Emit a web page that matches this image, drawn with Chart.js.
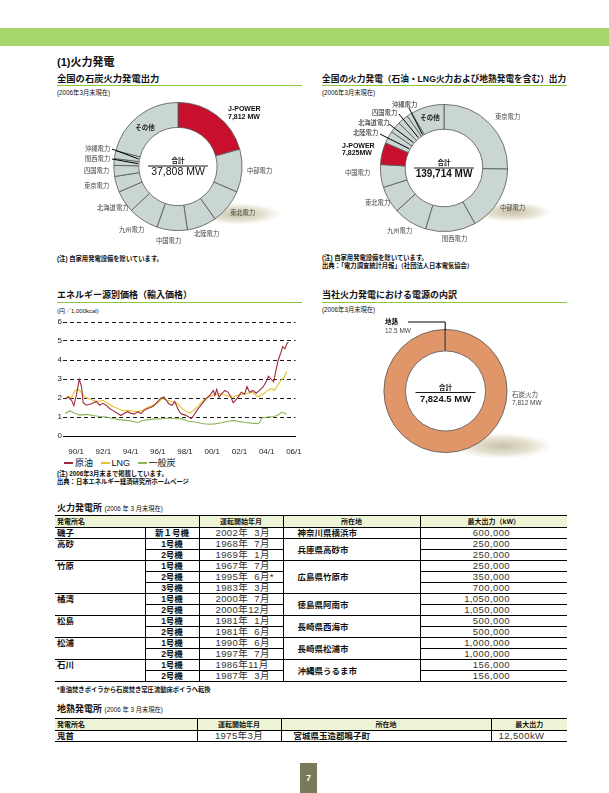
<!DOCTYPE html>
<html lang="ja">
<head>
<meta charset="utf-8">
<script src="https://cdn.jsdelivr.net/npm/chart.js@4.4.1/dist/chart.umd.min.js"></script>
<style>
  html, body { margin: 0; padding: 0; background: #fff; }
  body { width: 609px; height: 793px; position: relative; overflow: hidden;
         font-family: "Liberation Sans", "Noto Sans CJK JP", sans-serif; color: #111; }
  .t { position: absolute; white-space: nowrap; line-height: 1; }
  .b { font-weight: bold; }
  .rule { position: absolute; height: 1.3px; background: #8cc63f; }
  canvas { position: absolute; }
  table { position: absolute; border-collapse: collapse; table-layout: fixed; }
  td, th { padding: 0; overflow: hidden; white-space: pre; }
  th { font-size: 7px; font-weight: bold; height: 11px; line-height: 11px; background: #eef5d6;
       border-top: 1.5px solid #000; border-bottom: 1px solid #000; }
  td { height: 10px; line-height: 10px; border-bottom: 1px solid #000; }
  .vl { border-left: 1px solid #000; }
  .nm { font-size: 8.5px; font-weight: bold; vertical-align: top; padding-left: 2px; }
  .un { font-size: 8.5px; font-weight: bold; text-align: center; }
  .dt { font-size: 9.5px; color: #333; padding-left: 16px; letter-spacing: 0.4px; }
  .pl { font-size: 8.5px; font-weight: bold; padding-left: 14px; vertical-align: middle; }
  .op { font-size: 9.5px; color: #333; text-align: right; padding-right: 57px; letter-spacing: 0.4px; }
  .leg { display: inline-block; width: 9px; height: 1.4px; vertical-align: middle; margin-right: 2px; }
</style>
</head>
<body>

<div style="position:absolute;left:0;top:28px;width:609px;height:18px;background:#a6d66c"></div>
<div class="t b" style="left:57px;top:56.5px;font-size:11px">(1)火力発電</div>

<div class="t b" style="left:57px;top:74.5px;font-size:9.3px">全国の石炭火力発電出力</div>
<div class="rule" style="left:57px;top:84.5px;width:245px"></div>
<div class="t" style="left:57px;top:90px;font-size:6.3px">(2006年3月末現在)</div>

<div class="t b" style="left:322px;top:74.5px;font-size:8.7px">全国の火力発電（石油・LNG火力および地熱発電を含む）出力</div>
<div class="rule" style="left:322px;top:84.5px;width:245px"></div>
<div class="t" style="left:322px;top:90px;font-size:6.3px">(2006年3月末現在)</div>

<canvas id="coalShare" width="243" height="156" style="left:57px;top:96px"></canvas>
<canvas id="thermalShare" width="250" height="156" style="left:322px;top:96px"></canvas>

<div class="t b" style="left:57px;top:256px;font-size:6.3px">(注) 自家用発電設備を除いています。</div>
<div class="t b" style="left:322px;top:255px;font-size:6.3px">(注) 自家用発電設備を除いています。</div>
<div class="t b" style="left:322px;top:263px;font-size:6.3px">出典：「電力調査統計月報」（社団法人日本電気協会）</div>

<div class="t b" style="left:57px;top:290.5px;font-size:9px">エネルギー源別価格（輸入価格）</div>
<div class="rule" style="left:57px;top:302px;width:245px"></div>
<div class="t" style="left:57px;top:308px;font-size:6px">(円／1,000kcal)</div>
<canvas id="prices" width="250" height="140" style="left:55px;top:315px"></canvas>
<div class="t" style="left:64px;top:458.5px;font-size:9px">
  <span class="leg" style="background:#9c2b3c"></span>原油&nbsp;&nbsp;
  <span class="leg" style="background:#e3c22c"></span>LNG&nbsp;&nbsp;
  <span class="leg" style="background:#8fb35a"></span>一般炭
</div>
<div class="t b" style="left:57px;top:471px;font-size:6.3px">(注) 2006年3月末まで掲載しています。</div>
<div class="t b" style="left:57px;top:479px;font-size:6.3px">出典：日本エネルギー経済研究所ホームページ</div>

<div class="t b" style="left:322px;top:290.5px;font-size:9px">当社火力発電における電源の内訳</div>
<div class="rule" style="left:322px;top:302px;width:245px"></div>
<div class="t" style="left:322px;top:307px;font-size:6.3px">(2006年3月末現在)</div>
<canvas id="ownShare" width="250" height="150" style="left:322px;top:312px"></canvas>

<div class="t" style="left:57px;top:503.5px;font-size:9px"><span class="b">火力発電所</span> <span style="font-size:6.3px">(2006 年 3 月末現在)</span></div>
<table id="thermalTable" style="left:55px;top:515px;width:512px">
  <colgroup><col style="width:90px"><col style="width:54px"><col style="width:84px"><col style="width:137px"><col style="width:147px"></colgroup>
  <thead><tr>
    <th colspan="2" style="text-align:left;padding-left:2px">発電所名</th>
    <th class="vl">運転開始年月</th>
    <th class="vl">所在地</th>
    <th class="vl">最大出力（kW）</th>
  </tr></thead>
  <tbody></tbody>
</table>
<div class="t b" style="left:57px;top:687px;font-size:6.3px">*重油焚きボイラから石炭焚き常圧流動床ボイラへ転換</div>

<div class="t" style="left:57px;top:704.5px;font-size:9px"><span class="b">地熱発電所</span> <span style="font-size:6.3px">(2006 年 3 月末現在)</span></div>
<table id="geoTable" style="left:55px;top:718px;width:512px">
  <colgroup><col style="width:142px"><col style="width:84px"><col style="width:210px"><col style="width:76px"></colgroup>
  <thead><tr>
    <th style="text-align:left;padding-left:2px">発電所名</th>
    <th class="vl">運転開始年月</th>
    <th class="vl">所在地</th>
    <th class="vl">最大出力</th>
  </tr></thead>
  <tbody></tbody>
</table>

<div style="position:absolute;left:300px;top:763px;width:17px;height:30px;background:#7a7a5b;color:#fff;font-weight:bold;font-size:9px;line-height:30px;text-align:center">7</div>

<script>
const FONT = '"Liberation Sans", "Noto Sans CJK JP", sans-serif';

// --- 全国の石炭火力発電出力 (MW) ---
const coalCompanies = ['J-POWER', '中部電力', '東北電力', '北陸電力', '中国電力', '九州電力',
                       '北海道電力', '東京電力', '四国電力', '関西電力', '沖縄電力', 'その他'];
const coalOutput = [7812, 4100, 3300, 2800, 2900, 2900, 2100, 1500, 1050, 650, 750, 7946];
const coalTotal = '37,808 MW';

// --- 全国の火力発電出力 (MW) ---
const thermalCompanies = ['東京電力', '中部電力', '関西電力', '九州電力', '東北電力', '中国電力',
                          'J-POWER', '北陸電力', '北海道電力', '四国電力', '沖縄電力', 'その他'];
const thermalOutput = [35300, 23300, 17800, 12000, 9500, 8100, 7825, 4400, 4000, 3800, 1900, 11789];
const thermalTotal = '139,714 MW';

// --- 当社火力発電における電源の内訳 (MW) ---
const ownSources = ['石炭火力', '地熱'];
const ownOutput = [7812, 12.5];
const ownTotal = '7,824.5 MW';

// --- エネルギー源別価格 (円/1,000kcal) ---
const crudeYears = [1989.76, 1990.00, 1990.24, 1990.41, 1990.61, 1990.80, 1990.97, 1991.09, 1991.33, 1991.69,
  1992.06, 1992.30, 1992.54, 1992.78, 1993.03, 1993.27, 1993.63, 1993.87, 1994.12, 1994.36,
  1994.60, 1994.84, 1995.08, 1995.33, 1995.57, 1995.81, 1996.05, 1996.30, 1996.54, 1996.78,
  1997.02, 1997.19, 1997.38, 1997.63, 1997.82, 1997.99, 1998.18, 1998.35, 1998.60, 1998.84,
  1999.03, 1999.20, 1999.44, 1999.69, 1999.93, 2000.17, 2000.41, 2000.65, 2000.77, 2000.90,
  2001.07, 2001.26, 2001.50, 2001.74, 2001.94, 2002.11, 2002.28, 2002.47, 2002.71, 2002.95,
  2003.12, 2003.32, 2003.56, 2003.80, 2004.04, 2004.29, 2004.53, 2004.70, 2004.89, 2005.08,
  2005.25, 2005.42, 2005.62, 2005.74, 2005.91, 2006.05, 2006.15];
const crudePrice = [1.95, 2.05, 1.88, 1.6, 2.2, 2.98, 2.6, 1.75, 1.62, 1.7,
  1.82, 1.62, 1.72, 1.62, 1.45, 1.35, 1.18, 1.08, 1.2, 1.28,
  1.2, 1.15, 1.27, 1.18, 1.35, 1.45, 1.5, 1.6, 1.8, 1.97,
  2.05, 1.88, 1.7, 1.62, 1.82, 1.52, 1.25, 1.15, 1.1, 1.0,
  0.92, 1.08, 1.35, 1.57, 1.8, 2.0, 2.15, 2.4, 2.15, 2.45,
  2.05, 2.22, 2.4, 2.3, 2.05, 1.75, 1.88, 2.05, 2.3, 2.2,
  2.6, 2.3, 2.4, 2.25, 2.4, 2.57, 2.85, 3.15, 3.0, 2.85,
  3.45, 4.0, 4.4, 4.7, 4.6, 4.85, 4.95];

const lngYears = [1989.76, 1990.00, 1990.24, 1990.48, 1990.73, 1990.97, 1991.21, 1991.45, 1991.82, 1992.18,
  1992.54, 1992.91, 1993.27, 1993.63, 1994.00, 1994.36, 1994.72, 1995.08, 1995.45, 1995.81,
  1996.17, 1996.54, 1996.90, 1997.26, 1997.63, 1997.99, 1998.35, 1998.72, 1998.96, 1999.20,
  1999.56, 1999.93, 2000.29, 2000.65, 2001.02, 2001.38, 2001.74, 2002.11, 2002.47, 2002.83,
  2003.20, 2003.56, 2003.92, 2004.29, 2004.65, 2004.94, 2005.13, 2005.38, 2005.62, 2005.86, 2006.05];
const lngPrice = [1.98, 2.1, 2.0, 2.38, 2.45, 2.3, 2.05, 1.97, 1.88, 1.82,
  1.88, 1.72, 1.55, 1.45, 1.33, 1.35, 1.32, 1.27, 1.35, 1.5,
  1.6, 1.72, 1.97, 1.88, 1.8, 1.72, 1.45, 1.27, 1.22, 1.35,
  1.6, 1.88, 2.05, 2.15, 2.22, 2.2, 2.1, 2.05, 2.15, 2.2,
  2.25, 2.3, 2.05, 2.2, 2.4, 2.5, 2.4, 2.67, 2.93, 3.1, 3.4];

const coalYears = [1989.76, 1990.12, 1990.48, 1990.85, 1991.33, 1991.82, 1992.30, 1992.78, 1993.27, 1993.75,
  1994.24, 1994.72, 1995.08, 1995.45, 1995.93, 1996.42, 1996.90, 1997.38, 1997.87, 1998.35,
  1998.84, 1999.32, 1999.81, 2000.29, 2000.77, 2001.26, 2001.74, 2002.11, 2002.47, 2002.95,
  2003.44, 2003.92, 2004.04, 2004.21, 2004.65, 2005.13, 2005.50, 2005.62, 2005.91, 2006.05];
const coalPrice = [1.2, 1.32, 1.2, 1.1, 1.14, 1.08, 1.03, 1.0, 0.92, 0.86,
  0.82, 0.78, 0.7, 0.82, 0.86, 0.9, 0.91, 0.95, 0.91, 0.9,
  0.78, 0.74, 0.66, 0.62, 0.64, 0.7, 0.78, 0.82, 0.77, 0.72,
  0.68, 0.65, 0.7, 0.95, 1.0, 1.03, 1.14, 1.25, 1.2, 1.15];

const xTickYears = [1990, 1992, 1994, 1996, 1998, 2000, 2002, 2004, 2006];
const xTickLabels = ['90/1', '92/1', '94/1', '96/1', '98/1', '00/1', '02/1', '04/1', '06/1'];

// --- 火力発電所 ---
const plantNames = ['磯子', '高砂', '竹原', '橘湾', '松島', '松浦', '石川'];
const plantPlaces = ['神奈川県横浜市', '兵庫県高砂市', '広島県竹原市', '徳島県阿南市', '長崎県西海市', '長崎県松浦市', '沖縄県うるま市'];
const unitNames = [['新１号機'], ['1号機', '2号機'], ['1号機', '2号機', '3号機'], ['1号機', '2号機'],
                   ['1号機', '2号機'], ['1号機', '2号機'], ['1号機', '2号機']];
const unitStarts = [['2002年  3月'], ['1968年  7月', '1969年  1月'], ['1967年  7月', '1995年  6月*', '1983年  3月'],
                    ['2000年  7月', '2000年12月'], ['1981年  1月', '1981年  6月'], ['1990年  6月', '1997年  7月'],
                    ['1986年11月', '1987年  3月']];
const unitOutputs = [[600000], [250000, 250000], [250000, 350000, 700000], [1050000, 1050000],
                     [500000, 500000], [1000000, 1000000], [156000, 156000]];

// --- 地熱発電所 ---
const geoName = '鬼首';
const geoStart = '1975年3月';
const geoPlace = '宮城県玉造郡鳴子町';
const geoOutput = '12,500kW';

// draws shadow, labels, leader lines and the total in the hole
const decor = {
    id: 'decor',
    beforeDatasetsDraw(chart, args, o) {
        const ctx = chart.ctx;
        const s = o.shadow;
        ctx.save();
        ctx.translate(s.x, s.y);
        ctx.scale(1, s.ry / s.rx);
        const g = ctx.createRadialGradient(0, 0, 0, 0, 0, s.rx);
        g.addColorStop(0, 'rgba(150,140,90,0.55)');
        g.addColorStop(0.6, 'rgba(170,160,110,0.3)');
        g.addColorStop(1, 'rgba(190,180,130,0)');
        ctx.fillStyle = g;
        ctx.beginPath();
        ctx.arc(0, 0, s.rx, 0, Math.PI * 2);
        ctx.fill();
        ctx.restore();
    },
    afterDatasetsDraw(chart, args, o) {
        const ctx = chart.ctx;
        const arcs = chart.getDatasetMeta(0).data;
        const cx = arcs[0].x, cy = arcs[0].y;
        ctx.save();
        ctx.strokeStyle = '#000';
        ctx.lineWidth = 1;
        (o.leaders || []).forEach(l => {
            const a = arcs[l.index];
            const mid = (a.startAngle + a.endAngle) / 2;
            const r = l.outer ? a.outerRadius - 1 : a.innerRadius + 1;
            const tx = cx + Math.cos(mid) * r, ty = cy + Math.sin(mid) * r;
            ctx.beginPath();
            ctx.moveTo(l.x, l.y);
            if (l.elbow) ctx.lineTo(tx, l.y);
            ctx.lineTo(tx, ty);
            ctx.stroke();
        });
        ctx.textBaseline = 'middle';
        o.labels.forEach(lb => {
            ctx.font = (lb.bold ? 'bold ' : '') + (lb.size || 6.3) + 'px ' + FONT;
            ctx.fillStyle = lb.color || '#444';
            ctx.textAlign = lb.align || 'left';
            ctx.fillText(lb.text, lb.x, lb.y);
        });
        // 合計
        const d = o.centerOffsets;
        ctx.textAlign = 'center';
        ctx.fillStyle = '#111';
        ctx.font = 'bold 6.5px ' + FONT;
        ctx.fillText('合計', cx, cy + d[0]);
        ctx.beginPath();
        ctx.lineWidth = 0.9;
        ctx.moveTo(cx - 30, cy + d[1]);
        ctx.lineTo(cx + 30, cy + d[1]);
        ctx.stroke();
        ctx.font = (o.totalBold ? 'bold ' : '') + o.totalSize + 'px ' + FONT;
        ctx.fillText(o.total, cx, cy + d[2]);
        ctx.restore();
    }
};

function makeDonut(id, labels, values, colors, cutout, padding, decorOpts) {
    return new Chart(document.getElementById(id), {
        type: 'doughnut',
        data: {
            labels: labels,
            datasets: [{
                data: values,
                backgroundColor: colors,
                borderColor: '#555',
                borderWidth: 0.8
            }]
        },
        options: {
            responsive: false,
            animation: false,
            devicePixelRatio: 1,
            cutout: cutout,
            layout: { padding: padding },
            plugins: { legend: { display: false }, tooltip: { enabled: false }, decor: decorOpts }
        },
        plugins: [decor]
    });
}

const GRAY = '#c9d6d3';
const RED = '#c8102e';

makeDonut('coalShare', coalCompanies, coalOutput,
    coalCompanies.map(c => c === 'J-POWER' ? RED : GRAY), '61%',
    { left: 56.5, right: 57.5, top: 6, bottom: 21 },
    {
        shadow: { x: 181, y: 118, rx: 44, ry: 11 },
        total: coalTotal, totalBold: false, totalSize: 10.5, centerOffsets: [-5.5, -0.5, 5.5],
        leaders: [{ index: 10, x: 55, y: 53 }, { index: 9, x: 55, y: 63 }],
        labels: [
            { text: 'J-POWER', x: 171, y: 13, bold: true, size: 7, color: '#111' },
            { text: '7,812 MW', x: 171, y: 21, bold: true, size: 7, color: '#111' },
            { text: 'その他', x: 88, y: 32, align: 'center', bold: true, size: 6.5, color: '#222' },
            { text: '沖縄電力', x: 28, y: 53 },
            { text: '関西電力', x: 28, y: 63 },
            { text: '四国電力', x: 27, y: 75 },
            { text: '東京電力', x: 27, y: 90 },
            { text: '北海道電力', x: 40, y: 112 },
            { text: '九州電力', x: 62, y: 134 },
            { text: '中国電力', x: 99, y: 145 },
            { text: '北陸電力', x: 137, y: 138 },
            { text: '東北電力', x: 173, y: 117 },
            { text: '中部電力', x: 190, y: 75 }
        ]
    });

makeDonut('thermalShare', thermalCompanies, thermalOutput,
    thermalCompanies.map(c => c === 'J-POWER' ? RED : GRAY), '61%',
    { left: 58, right: 64, top: 8, bottom: 20 },
    {
        shadow: { x: 190, y: 116, rx: 40, ry: 10 },
        total: thermalTotal, totalBold: true, totalSize: 10, centerOffsets: [-5, 0, 6],
        leaders: [
            { index: 7, x: 58, y: 38 }, { index: 8, x: 67, y: 28 },
            { index: 9, x: 77, y: 18 }, { index: 10, x: 87, y: 12 }
        ],
        labels: [
            { text: '東京電力', x: 173, y: 21 },
            { text: '中部電力', x: 178, y: 112 },
            { text: '関西電力', x: 120, y: 143 },
            { text: '九州電力', x: 65, y: 135 },
            { text: '東北電力', x: 43, y: 107 },
            { text: '中国電力', x: 23, y: 77 },
            { text: 'J-POWER', x: 20, y: 50, bold: true, size: 7, color: '#111' },
            { text: '7,825MW', x: 20, y: 57.5, bold: true, size: 7, color: '#111' },
            { text: '北陸電力', x: 31, y: 37, color: '#222' },
            { text: '北海道電力', x: 36, y: 27, color: '#222' },
            { text: '四国電力', x: 50, y: 17, color: '#222' },
            { text: '沖縄電力', x: 70, y: 9, color: '#222' },
            { text: 'その他', x: 108, y: 22, align: 'center', bold: true, size: 6.5, color: '#222' }
        ]
    });

makeDonut('ownShare', ownSources, ownOutput, ['#e1966a', '#e1966a'], '65%',
    { left: 61.5, right: 64.5, top: 17, bottom: 9 },
    {
        shadow: { x: 180, y: 134, rx: 50, ry: 13 },
        total: ownTotal, totalBold: true, totalSize: 9.5, centerOffsets: [-2.5, 1.5, 8.5],
        leaders: [{ index: 1, x: 86, y: 10, elbow: true, outer: true }],
        labels: [
            { text: '地熱', x: 63, y: 10, bold: true, size: 6.5, color: '#111' },
            { text: '12.5 MW', x: 63, y: 19, size: 6.5 },
            { text: '石炭火力', x: 190, y: 83, size: 6.5 },
            { text: '7,812 MW', x: 190, y: 91, size: 6.5 }
        ]
    });

// --- price line chart ---
const toPoints = (xs, ys) => xs.map((x, i) => ({ x: x, y: ys[i] }));

new Chart(document.getElementById('prices'), {
    type: 'line',
    data: {
        datasets: [
            { label: '原油', data: toPoints(crudeYears, crudePrice), borderColor: '#9c2b3c', borderWidth: 1.1, pointRadius: 0 },
            { label: 'LNG', data: toPoints(lngYears, lngPrice), borderColor: '#e3c22c', borderWidth: 1.1, pointRadius: 0 },
            { label: '一般炭', data: toPoints(coalYears, coalPrice), borderColor: '#8fb35a', borderWidth: 1.1, pointRadius: 0 }
        ]
    },
    options: {
        responsive: false,
        animation: false,
        devicePixelRatio: 1,
        layout: { padding: { top: 7, right: 7, left: 0, bottom: 0 } },
        plugins: { legend: { display: false }, tooltip: { enabled: false } },
        scales: {
            x: {
                type: 'linear',
                min: 1989.61,
                max: 2006.69,
                afterBuildTicks: s => { s.ticks = xTickYears.map(v => ({ value: v })); },
                afterFit: s => { s.height = 19; },
                grid: { display: false },
                border: { display: true, color: '#000', width: 1 },
                ticks: {
                    align: 'start', padding: 3, autoSkip: false, maxRotation: 0,
                    color: '#222', font: { size: 8, family: FONT },
                    callback: (v, i) => xTickLabels[i]
                }
            },
            y: {
                min: 0,
                max: 6,
                afterFit: s => { s.width = 8; },
                grid: { color: '#000', lineWidth: 0.9, drawTicks: false },
                border: { display: false, dash: [4, 3] },
                ticks: { stepSize: 1, padding: 1, color: '#222', font: { size: 8, family: FONT } }
            }
        }
    }
});

// --- tables ---
const tbody = document.querySelector('#thermalTable tbody');
plantNames.forEach((name, p) => {
    unitNames[p].forEach((unit, u) => {
        const tr = document.createElement('tr');
        let html = '';
        if (u === 0) html += `<td class="nm" rowspan="${unitNames[p].length}">${name}</td>`;
        html += `<td class="un vl">${unit}</td>`;
        html += `<td class="dt vl">${unitStarts[p][u]}</td>`;
        if (u === 0) html += `<td class="pl vl" rowspan="${unitNames[p].length}">${plantPlaces[p]}</td>`;
        html += `<td class="op vl">${unitOutputs[p][u].toLocaleString('en-US')}</td>`;
        tr.innerHTML = html;
        tbody.appendChild(tr);
    });
});

document.querySelector('#geoTable tbody').innerHTML =
    `<tr><td class="nm" style="vertical-align:middle">${geoName}</td>` +
    `<td class="dt vl" style="padding-left:0;text-align:center">${geoStart}</td>` +
    `<td class="pl vl" style="padding-left:12px">${geoPlace}</td>` +
    `<td class="op vl" style="text-align:left;padding-right:0;padding-left:7px">${geoOutput}</td></tr>`;
</script>
</body>
</html>
